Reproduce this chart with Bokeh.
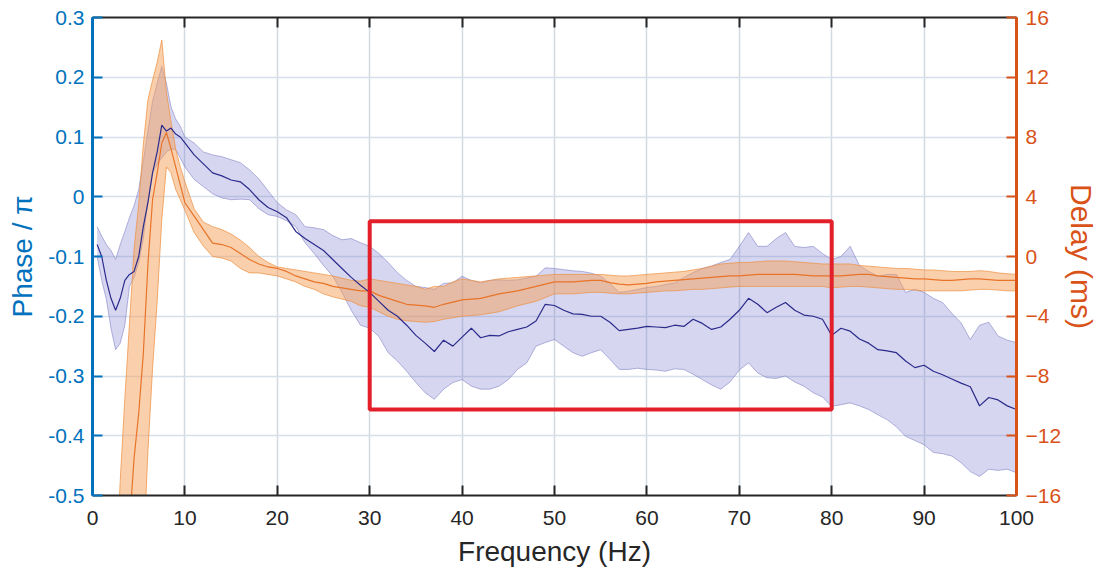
from bokeh.plotting import figure
from bokeh.models import (Range1d, LinearAxis, FixedTicker, CustomJSTickFormatter,
                          BoxAnnotation, ColumnDataSource)
from bokeh.embed import file_html
from bokeh.resources import INLINE

# ---------------- data ----------------
freq = [0.5, 1, 1.5, 2, 2.5, 3, 3.5, 4, 4.5, 5, 5.5, 6, 6.5, 7, 7.5, 8, 8.5, 9, 9.5, 10,
        11, 12, 13, 14, 15, 16, 17, 18, 19, 20,
        21, 22, 23, 24, 25, 26, 27, 28, 29, 30,
        31, 32, 33, 34, 35, 36, 37, 38, 39, 40,
        41, 42, 43, 44, 45, 46, 47, 48, 49, 50,
        51, 52, 53, 54, 55, 56, 57, 58, 59, 60,
        61, 62, 63, 64, 65, 66, 67, 68, 69, 70,
        71, 72, 73, 74, 75, 76, 77, 78, 79, 80,
        81, 82, 83, 84, 85, 86, 87, 88, 89, 90,
        91, 92, 93, 94, 95, 96, 97, 98, 99, 100]

# phase / pi
phase_mean = [-0.08, -0.10, -0.14, -0.17, -0.19, -0.17, -0.14, -0.13, -0.125, -0.10,
              -0.05, -0.01, 0.04, 0.075, 0.12, 0.11, 0.115, 0.105, 0.10, 0.09,
              0.07, 0.055, 0.04, 0.035, 0.028, 0.025, 0.012, -0.005, -0.018, -0.025,
              -0.035, -0.058, -0.07, -0.08, -0.09, -0.105, -0.12, -0.135, -0.148, -0.16,
              -0.175, -0.19, -0.2, -0.215, -0.232, -0.245, -0.259, -0.24, -0.25, -0.235,
              -0.22, -0.236, -0.232, -0.233, -0.226, -0.222, -0.218, -0.208, -0.18, -0.182,
              -0.19, -0.196, -0.197, -0.2, -0.2, -0.21, -0.224, -0.222, -0.22, -0.217,
              -0.218, -0.219, -0.215, -0.217, -0.205, -0.212, -0.222, -0.218, -0.205, -0.19,
              -0.17, -0.18, -0.194, -0.185, -0.177, -0.19, -0.198, -0.2, -0.205, -0.232,
              -0.22, -0.225, -0.238, -0.245, -0.256, -0.258, -0.261, -0.275, -0.286, -0.282,
              -0.292, -0.298, -0.305, -0.312, -0.318, -0.35, -0.336, -0.34, -0.35, -0.356]
phase_upper = [-0.05, -0.066, -0.08, -0.09, -0.105, -0.08, -0.058, -0.035, -0.015, 0.012,
               0.06, 0.11, 0.16, 0.19, 0.218, 0.19, 0.15, 0.13, 0.118, 0.10,
               0.09, 0.075, 0.07, 0.067, 0.062, 0.057, 0.045, 0.03, 0.01, -0.01,
               -0.022, -0.03, -0.05, -0.052, -0.055, -0.065, -0.072, -0.07, -0.077, -0.083,
               -0.095, -0.11, -0.127, -0.14, -0.15, -0.152, -0.155, -0.145, -0.144, -0.133,
               -0.14, -0.144, -0.14, -0.139, -0.14, -0.139, -0.136, -0.133, -0.119, -0.12,
               -0.122, -0.124, -0.125, -0.128, -0.133, -0.145, -0.16, -0.158, -0.155, -0.152,
               -0.15, -0.147, -0.144, -0.135, -0.127, -0.12, -0.116, -0.11, -0.105, -0.083,
               -0.06, -0.083, -0.083, -0.07, -0.06, -0.083, -0.085, -0.083, -0.095, -0.105,
               -0.1, -0.083, -0.115, -0.125, -0.133, -0.13, -0.13, -0.16, -0.155, -0.16,
               -0.17, -0.177, -0.195, -0.211, -0.239, -0.215, -0.21, -0.233, -0.24, -0.244]
phase_lower = [-0.10, -0.14, -0.172, -0.22, -0.256, -0.245, -0.215, -0.15, -0.135, -0.11,
               -0.07, -0.005, 0.04, 0.055, 0.065, 0.075, 0.08, 0.079, 0.065, 0.05,
               0.029, 0.017, 0.005, -0.002, -0.005, -0.004, -0.005, -0.02, -0.03, -0.033,
               -0.04, -0.05, -0.077, -0.095, -0.115, -0.133, -0.16, -0.19, -0.215, -0.22,
               -0.234, -0.261, -0.275, -0.292, -0.311, -0.328, -0.339, -0.322, -0.311, -0.306,
               -0.317, -0.322, -0.322, -0.317, -0.306, -0.289, -0.278, -0.25, -0.244, -0.239,
               -0.25, -0.261, -0.267, -0.261, -0.256, -0.272, -0.289, -0.289, -0.287, -0.289,
               -0.29, -0.292, -0.288, -0.289, -0.297, -0.306, -0.315, -0.322, -0.31, -0.29,
               -0.278, -0.295, -0.303, -0.304, -0.3, -0.31, -0.317, -0.328, -0.335, -0.351,
               -0.348, -0.345, -0.35, -0.356, -0.365, -0.373, -0.385, -0.401, -0.408, -0.415,
               -0.428, -0.43, -0.434, -0.445, -0.46, -0.468, -0.456, -0.458, -0.456, -0.462]

# delay (ms)
delay_mean = [None, None, None, None, -30, -26, -22, -18, -13.5, -10.5,
              -6.5, -0.5, 3.8, 5.6, 7.6, 8.3, 7.2, 6.0, 4.8, 3.6,
              2.7, 1.8, 0.9, 0.8, 0.6, 0.2, -0.2, -0.5, -0.7, -0.8,
              -1.0, -1.3, -1.5, -1.7, -1.8, -2.0, -2.1, -2.2, -2.3, -2.3,
              -2.6, -2.8, -3.0, -3.2, -3.25, -3.3, -3.4, -3.2, -3.05, -2.9,
              -2.85, -2.8, -2.65, -2.5, -2.4, -2.3, -2.15, -2.0, -1.85, -1.7,
              -1.7, -1.7, -1.65, -1.6, -1.6, -1.75, -1.85, -1.9, -1.85, -1.8,
              -1.7, -1.65, -1.6, -1.55, -1.5, -1.45, -1.4, -1.35, -1.3, -1.3,
              -1.25, -1.2, -1.2, -1.2, -1.2, -1.2, -1.25, -1.3, -1.3, -1.3,
              -1.3, -1.25, -1.2, -1.2, -1.3, -1.35, -1.4, -1.45, -1.5, -1.5,
              -1.55, -1.6, -1.6, -1.55, -1.5, -1.5, -1.55, -1.6, -1.6, -1.6]
delay_upper = [None, None, None, None, -22, -15, -9.5, -4.5, 0.5, 3.5,
               7.5, 10.5, 11.8, 13.0, 14.5, 11.0, 9.0, 7.2, 6.0, 5.0,
               3.2, 2.3, 2.0, 1.8, 1.5, 1.1, 0.6, 0.0, -0.4, -0.7,
               -0.8, -0.9, -1.0, -1.1, -1.2, -1.3, -1.45, -1.6, -1.65, -1.5,
               -1.6, -1.7, -1.8, -1.9, -2.0, -2.2, -2.0, -2.0, -1.7, -1.5,
               -1.6, -1.7, -1.6, -1.5, -1.45, -1.4, -1.35, -1.3, -1.25, -1.2,
               -1.2, -1.2, -1.2, -1.2, -1.2, -1.25, -1.3, -1.3, -1.25, -1.2,
               -1.15, -1.1, -1.05, -1.0, -0.9, -0.8, -0.65, -0.5, -0.45, -0.4,
               -0.4, -0.35, -0.3, -0.3, -0.3, -0.35, -0.4, -0.45, -0.5, -0.5,
               -0.5, -0.5, -0.6, -0.65, -0.7, -0.75, -0.8, -0.8, -0.85, -0.9,
               -0.9, -0.95, -1.0, -1.0, -1.0, -0.95, -1.0, -1.1, -1.15, -1.2]
delay_lower = [None, None, None, None, -50, -45, -40, -36, -30, -26,
               -20, -13, -7.5, -3.0, 2.5, 6.0, 5.6, 4.5, 3.8, 3.1,
               1.6, 0.7, 0.0, -0.1, -0.3, -0.8, -1.1, -1.1, -1.2, -1.3,
               -1.5, -1.7, -2.0, -2.2, -2.5, -2.7, -2.85, -3.0, -3.3, -3.4,
               -3.7, -4.0, -4.2, -4.3, -4.35, -4.4, -4.35, -4.2, -4.1, -4.0,
               -3.95, -3.9, -3.8, -3.7, -3.5, -3.3, -3.15, -3.0, -2.75, -2.5,
               -2.5, -2.5, -2.45, -2.4, -2.4, -2.45, -2.5, -2.5, -2.45, -2.4,
               -2.35, -2.3, -2.3, -2.25, -2.2, -2.2, -2.15, -2.1, -2.05, -2.0,
               -2.0, -2.0, -2.0, -2.0, -2.0, -2.0, -2.0, -2.0, -2.0, -2.1,
               -2.05, -2.0, -2.0, -2.05, -2.1, -2.15, -2.2, -2.2, -2.25, -2.3,
               -2.3, -2.3, -2.3, -2.3, -2.25, -2.2, -2.2, -2.25, -2.3, -2.3]

x_ticks = [0, 10, 20, 30, 40, 50, 60, 70, 80, 90, 100]
phase_ticks = [-0.5, -0.4, -0.3, -0.2, -0.1, 0, 0.1, 0.2, 0.3]
delay_ticks = [-16, -12, -8, -4, 0, 4, 8, 12, 16]
highlight = dict(f_start=30, f_end=80, phase_top=-0.041, phase_bottom=-0.356)

# ---------------- styling ----------------
FONT = "Liberation Sans"
BLUE_AX = "#0072BD"
ORANGE_AX = "#D95319"
DARK = "#262626"

p = figure(width=1112, height=575, output_backend="svg", toolbar_location=None,
           x_range=Range1d(0, 100), y_range=Range1d(-0.5, 0.3),
           min_border_left=92, min_border_right=96, min_border_top=17, min_border_bottom=80)
p.extra_y_ranges = {"delay": Range1d(-16, 16)}
p.outline_line_color = None
p.background_fill_color = "white"

# grid
p.xgrid.ticker = FixedTicker(ticks=x_ticks)
p.ygrid.ticker = FixedTicker(ticks=phase_ticks)
p.xgrid.grid_line_color = "#d3d9e0"
p.ygrid.grid_line_color = "#d6e0ea"
p.xgrid.grid_line_width = 1.5
p.ygrid.grid_line_width = 1.5

# blue band
src_b = ColumnDataSource(dict(f=freq, m=phase_mean, lo=phase_lower, hi=phase_upper))
p.varea(x="f", y1="lo", y2="hi", source=src_b, fill_color="#6b6bc8", fill_alpha=0.28)
p.line("f", "hi", source=src_b, line_color="#7c7cc4", line_width=0.8, line_alpha=0.7)
p.line("f", "lo", source=src_b, line_color="#7c7cc4", line_width=0.8, line_alpha=0.7)

# orange band (delay axis)
idx = [i for i, v in enumerate(delay_mean) if v is not None]
src_o = ColumnDataSource(dict(f=[freq[i] for i in idx], m=[delay_mean[i] for i in idx],
                              lo=[delay_lower[i] for i in idx], hi=[delay_upper[i] for i in idx]))
p.varea(x="f", y1="lo", y2="hi", source=src_o, fill_color="#f5a05a", fill_alpha=0.5,
        y_range_name="delay")
p.line("f", "hi", source=src_o, line_color="#ee9040", line_width=0.9, line_alpha=0.8,
       y_range_name="delay")
p.line("f", "lo", source=src_o, line_color="#ee9040", line_width=0.9, line_alpha=0.8,
       y_range_name="delay")
p.line("f", "m", source=src_o, line_color="#e8742a", line_width=1.2, y_range_name="delay")

# blue mean line
p.line("f", "m", source=src_b, line_color="#2b2b8c", line_width=1.2)

# red highlight box
p.add_layout(BoxAnnotation(left=highlight["f_start"], right=highlight["f_end"],
                           top=highlight["phase_top"], bottom=highlight["phase_bottom"],
                           fill_alpha=0, line_color="#e3202a", line_alpha=1.0, line_width=4))

# bottom axis
xa = p.xaxis[0]
xa.ticker = FixedTicker(ticks=x_ticks)
xa.axis_label = "Frequency (Hz)"
xa.axis_label_text_font = FONT
xa.axis_label_text_font_size = "28px"
xa.axis_label_text_font_style = "normal"
xa.axis_label_text_color = DARK
xa.axis_label_standoff = 8
xa.major_label_text_font = FONT
xa.major_label_text_font_size = "21px"
xa.major_label_text_color = DARK
xa.major_label_standoff = 15
xa.axis_line_color = DARK
xa.axis_line_width = 2
xa.major_tick_line_color = DARK
xa.major_tick_line_width = 2
xa.major_tick_in = 10
xa.major_tick_out = 0
xa.minor_tick_line_color = None

# top axis (ticks only)
ta = LinearAxis(ticker=FixedTicker(ticks=x_ticks),
                formatter=CustomJSTickFormatter(code="return ''"))
ta.axis_line_color = DARK
ta.axis_line_width = 2
ta.major_tick_line_color = DARK
ta.major_tick_line_width = 2
ta.major_tick_in = 10
ta.major_tick_out = 0
ta.minor_tick_line_color = None
ta.major_label_standoff = 0
ta.major_label_text_font_size = "1px"
p.add_layout(ta, "above")

# left axis
ya = p.yaxis[0]
ya.ticker = FixedTicker(ticks=phase_ticks)
ya.formatter = CustomJSTickFormatter(code="""
    var s = tick.toFixed(1);
    if (s == '0.0' || s == '-0.0') { return '0'; }
    return s;
""")
ya.axis_label = "Phase / π"
ya.axis_label_text_font = FONT
ya.axis_label_text_font_size = "28px"
ya.axis_label_text_font_style = "normal"
ya.axis_label_text_color = BLUE_AX
ya.axis_label_standoff = 7
ya.major_label_text_font = FONT
ya.major_label_text_font_size = "21px"
ya.major_label_text_color = BLUE_AX
ya.major_label_standoff = 8
ya.axis_line_color = BLUE_AX
ya.axis_line_width = 3
ya.major_tick_line_color = BLUE_AX
ya.major_tick_line_width = 2
ya.major_tick_in = 10
ya.major_tick_out = 0
ya.minor_tick_line_color = None

# right axis
ra = LinearAxis(y_range_name="delay", ticker=FixedTicker(ticks=delay_ticks))
ra.axis_label = "Delay (ms)"
ra.axis_label_text_font = FONT
ra.axis_label_text_font_size = "30px"
ra.axis_label_text_font_style = "normal"
ra.axis_label_text_color = ORANGE_AX
ra.axis_label_standoff = 1
ra.major_label_text_font = FONT
ra.major_label_text_font_size = "21px"
ra.major_label_text_color = ORANGE_AX
ra.major_label_standoff = 9
ra.axis_line_color = ORANGE_AX
ra.axis_line_width = 3
ra.major_tick_line_color = ORANGE_AX
ra.major_tick_line_width = 2
ra.major_tick_in = 10
ra.major_tick_out = 0
ra.minor_tick_line_color = None
p.add_layout(ra, "right")

open("out.html", "w").write(file_html(p, INLINE))
